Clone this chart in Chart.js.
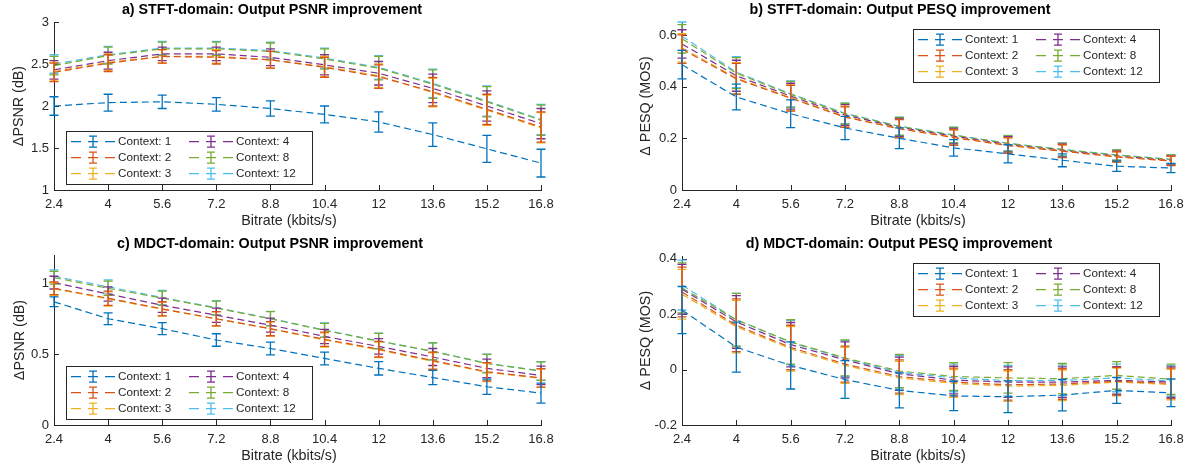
<!DOCTYPE html>
<html>
<head>
<meta charset="utf-8">
<script src="https://cdn.jsdelivr.net/npm/chart.js@4.4.1/dist/chart.umd.min.js"></script>
<style>
  body { margin: 0; background: #fff; }
  .panel { position: absolute; }
</style>
</head>
<body>
<div class="panel" style="left:0;top:0"><canvas id="chartA" width="595" height="235"></canvas></div>
<div class="panel" style="left:595px;top:0"><canvas id="chartB" width="596" height="235"></canvas></div>
<div class="panel" style="left:0;top:235px"><canvas id="chartC" width="595" height="235"></canvas></div>
<div class="panel" style="left:595px;top:235px"><canvas id="chartD" width="596" height="235"></canvas></div>
<script>
const bitrates = [2.4, 4, 5.6, 7.2, 8.8, 10.4, 12, 13.6, 15.2, 16.8];
const contexts = ['Context: 1', 'Context: 2', 'Context: 3', 'Context: 4', 'Context: 8', 'Context: 12'];
const colors = ['#0072BD', '#D95319', '#EDB120', '#7E2F8E', '#77AC30', '#4DBEEE'];

// a) STFT-domain PSNR (dB), one row per context
const stftPsnrMean = [
    [2.00, 2.04, 2.05, 2.02, 1.97, 1.90, 1.81, 1.66, 1.49, 1.32],
    [2.40, 2.51, 2.59, 2.58, 2.55, 2.46, 2.35, 2.17, 1.96, 1.75],
    [2.41, 2.52, 2.59, 2.59, 2.55, 2.47, 2.36, 2.16, 1.95, 1.74],
    [2.43, 2.54, 2.62, 2.62, 2.58, 2.49, 2.39, 2.21, 2.00, 1.79],
    [2.48, 2.60, 2.68, 2.68, 2.65, 2.56, 2.45, 2.26, 2.05, 1.83],
    [2.50, 2.61, 2.69, 2.69, 2.66, 2.57, 2.46, 2.27, 2.06, 1.84]
];
const stftPsnrErr = [
    [0.11, 0.10, 0.08, 0.08, 0.09, 0.10, 0.12, 0.14, 0.16, 0.165],
    [0.11, 0.10, 0.08, 0.08, 0.10, 0.12, 0.14, 0.17, 0.18, 0.18],
    [0.11, 0.10, 0.08, 0.08, 0.10, 0.12, 0.14, 0.17, 0.18, 0.18],
    [0.11, 0.10, 0.08, 0.08, 0.10, 0.12, 0.14, 0.17, 0.18, 0.18],
    [0.11, 0.10, 0.08, 0.08, 0.10, 0.12, 0.14, 0.17, 0.18, 0.18],
    [0.11, 0.10, 0.08, 0.08, 0.10, 0.12, 0.14, 0.17, 0.18, 0.18]
];

// b) STFT-domain PESQ (MOS)
const stftPesqMean = [
    [0.485, 0.360, 0.295, 0.240, 0.200, 0.163, 0.140, 0.115, 0.092, 0.085],
    [0.545, 0.430, 0.355, 0.282, 0.237, 0.203, 0.172, 0.150, 0.128, 0.112],
    [0.550, 0.433, 0.357, 0.284, 0.238, 0.204, 0.173, 0.151, 0.129, 0.113],
    [0.565, 0.442, 0.363, 0.290, 0.242, 0.208, 0.176, 0.153, 0.131, 0.115],
    [0.585, 0.452, 0.370, 0.295, 0.246, 0.212, 0.180, 0.156, 0.135, 0.118],
    [0.595, 0.456, 0.372, 0.297, 0.247, 0.213, 0.181, 0.157, 0.136, 0.119]
];
const stftPesqErr = [
    [0.055, 0.050, 0.054, 0.045, 0.040, 0.032, 0.035, 0.025, 0.020, 0.018],
    [0.055, 0.060, 0.050, 0.040, 0.035, 0.030, 0.030, 0.025, 0.020, 0.018],
    [0.055, 0.060, 0.050, 0.040, 0.035, 0.030, 0.030, 0.025, 0.020, 0.018],
    [0.055, 0.060, 0.050, 0.040, 0.035, 0.030, 0.030, 0.025, 0.020, 0.018],
    [0.055, 0.060, 0.050, 0.040, 0.035, 0.030, 0.030, 0.025, 0.020, 0.018],
    [0.055, 0.060, 0.050, 0.040, 0.035, 0.030, 0.030, 0.025, 0.020, 0.018]
];

// c) MDCT-domain PSNR (dB)
const mdctPsnrMean = [
    [0.870, 0.750, 0.680, 0.600, 0.540, 0.470, 0.400, 0.335, 0.270, 0.225],
    [0.965, 0.895, 0.820, 0.750, 0.680, 0.605, 0.535, 0.455, 0.376, 0.333],
    [0.960, 0.890, 0.818, 0.748, 0.678, 0.600, 0.530, 0.450, 0.372, 0.330],
    [1.005, 0.925, 0.845, 0.775, 0.705, 0.625, 0.555, 0.480, 0.400, 0.350],
    [1.040, 0.965, 0.895, 0.825, 0.750, 0.668, 0.592, 0.520, 0.434, 0.380],
    [1.050, 0.975, 0.900, 0.828, 0.752, 0.670, 0.594, 0.520, 0.436, 0.382]
];
const mdctPsnrErr = [
    [0.035, 0.042, 0.042, 0.044, 0.045, 0.045, 0.047, 0.050, 0.054, 0.070],
    [0.045, 0.050, 0.050, 0.050, 0.050, 0.050, 0.055, 0.060, 0.065, 0.065],
    [0.045, 0.050, 0.050, 0.050, 0.050, 0.050, 0.055, 0.060, 0.065, 0.065],
    [0.045, 0.050, 0.050, 0.050, 0.050, 0.050, 0.055, 0.060, 0.065, 0.065],
    [0.045, 0.050, 0.050, 0.050, 0.050, 0.050, 0.055, 0.060, 0.065, 0.065],
    [0.045, 0.050, 0.050, 0.050, 0.050, 0.050, 0.055, 0.060, 0.065, 0.065]
];

// d) MDCT-domain PESQ (MOS)
const mdctPesqMean = [
    [0.215, 0.081, 0.015, -0.036, -0.075, -0.095, -0.098, -0.092, -0.075, -0.084],
    [0.280, 0.160, 0.080, 0.020, -0.025, -0.045, -0.055, -0.052, -0.042, -0.050],
    [0.272, 0.155, 0.075, 0.015, -0.030, -0.050, -0.060, -0.057, -0.045, -0.054],
    [0.290, 0.172, 0.090, 0.035, -0.015, -0.038, -0.045, -0.045, -0.039, -0.045],
    [0.295, 0.180, 0.100, 0.042, -0.005, -0.025, -0.030, -0.033, -0.021, -0.035],
    [0.305, 0.180, 0.098, 0.040, -0.010, -0.030, -0.040, -0.039, -0.030, -0.041]
];
const mdctPesqErr = [
    [0.085, 0.090, 0.085, 0.068, 0.063, 0.053, 0.057, 0.057, 0.047, 0.050],
    [0.090, 0.095, 0.080, 0.065, 0.060, 0.050, 0.055, 0.055, 0.050, 0.055],
    [0.090, 0.095, 0.080, 0.065, 0.060, 0.050, 0.055, 0.055, 0.050, 0.055],
    [0.090, 0.095, 0.080, 0.065, 0.060, 0.050, 0.055, 0.055, 0.050, 0.055],
    [0.090, 0.095, 0.080, 0.065, 0.060, 0.050, 0.055, 0.055, 0.050, 0.055],
    [0.090, 0.095, 0.080, 0.065, 0.060, 0.050, 0.055, 0.055, 0.050, 0.055]
];

const psnrTicks = [1, 1.5, 2, 2.5, 3];
const pesqTicks = [0, 0.2, 0.4, 0.6];
const mdctPsnrTicks = [0, 0.5, 1];
const mdctPesqTicks = [-0.2, 0, 0.2, 0.4];

const FONT = '"Liberation Sans", Arial, Helvetica, sans-serif';
const AXIS_COLOR = '#262626';
Chart.defaults.font.family = FONT;
Chart.defaults.color = AXIS_COLOR;

// error bars drawn right after each dataset's line, like matlab's errorbar()
const errorBars = {
    id: 'errorBars',
    afterDatasetDraw(chart, args) {
        const ds = chart.data.datasets[args.index];
        if (!ds.errors) return;
        const ctx = chart.ctx;
        const y = chart.scales.y;
        ctx.save();
        ctx.strokeStyle = ds.borderColor;
        ctx.lineWidth = 1.3;
        ctx.setLineDash([]);
        args.meta.data.forEach((pt, i) => {
            const v = ds.data[i].y;
            const top = y.getPixelForValue(v + ds.errors[i]);
            const bot = y.getPixelForValue(v - ds.errors[i]);
            ctx.beginPath();
            ctx.moveTo(pt.x, top); ctx.lineTo(pt.x, bot);
            ctx.moveTo(pt.x - 4.5, top); ctx.lineTo(pt.x + 4.5, top);
            ctx.moveTo(pt.x - 4.5, bot); ctx.lineTo(pt.x + 4.5, bot);
            ctx.stroke();
        });
        ctx.restore();
    }
};

// inward tick marks, panel title, axis labels and the boxed legend
const matlabAxes = {
    id: 'matlabAxes',
    beforeDatasetsDraw(chart) {
        const ctx = chart.ctx;
        const {x, y} = chart.scales;
        const area = chart.chartArea;
        ctx.save();
        ctx.strokeStyle = AXIS_COLOR;
        ctx.lineWidth = 1;
        ctx.beginPath();
        x.ticks.forEach(t => {
            const px = Math.round(x.getPixelForValue(t.value)) + 0.5;
            ctx.moveTo(px, area.bottom); ctx.lineTo(px, area.bottom - 5);
        });
        y.ticks.forEach(t => {
            const py = Math.round(y.getPixelForValue(t.value)) + 0.5;
            ctx.moveTo(area.left, py); ctx.lineTo(area.left + 5, py);
        });
        ctx.stroke();
        ctx.restore();
    },
    afterDraw(chart, args, opts) {
        const ctx = chart.ctx;
        const area = chart.chartArea;
        ctx.save();
        ctx.textAlign = 'center';
        ctx.textBaseline = 'middle';
        ctx.fillStyle = '#000';
        ctx.font = 'bold 14.3px ' + FONT;
        ctx.fillText(opts.title, opts.titleX, opts.titleY);

        ctx.fillStyle = AXIS_COLOR;
        ctx.font = '14.3px ' + FONT;
        ctx.fillText('Bitrate (kbits/s)', opts.xLabelX, 221);
        ctx.save();
        ctx.translate(opts.yLabelX, (area.top + area.bottom) / 2);
        ctx.rotate(-Math.PI / 2);
        ctx.fillText(opts.yLabel, 0, 0);
        ctx.restore();

        // legend, 3 rows x 2 columns
        const w = 246, h = 53;
        const bx = opts.legendCorner === 'sw' ? area.left + 12 : area.right - 12 - w;
        const by = opts.legendCorner === 'sw' ? area.bottom - 6 - h : area.top + 7;
        ctx.fillStyle = '#fff';
        ctx.fillRect(bx, by, w, h);
        ctx.strokeStyle = AXIS_COLOR;
        ctx.lineWidth = 1;
        ctx.strokeRect(Math.round(bx) + 0.5, Math.round(by) + 0.5, w, h);
        ctx.font = '11.7px ' + FONT;
        ctx.textAlign = 'left';
        chart.data.datasets.forEach((ds, i) => {
            const col = Math.floor(i / 3), row = i % 3;
            const x0 = bx + 5 + col * 118;
            const cy = by + 10.7 + row * 16;
            ctx.strokeStyle = ds.borderColor;
            ctx.lineWidth = 1.2;
            ctx.setLineDash([10, 7]);
            ctx.beginPath();
            ctx.moveTo(x0, cy); ctx.lineTo(x0 + 44, cy);
            ctx.stroke();
            ctx.setLineDash([]);
            const cx = x0 + 22;
            ctx.lineWidth = 1.3;
            ctx.beginPath();
            ctx.moveTo(cx, cy - 5.5); ctx.lineTo(cx, cy + 5.5);
            ctx.moveTo(cx - 4, cy - 5.5); ctx.lineTo(cx + 4, cy - 5.5);
            ctx.moveTo(cx - 4, cy + 5.5); ctx.lineTo(cx + 4, cy + 5.5);
            ctx.stroke();
            ctx.fillStyle = AXIS_COLOR;
            ctx.fillText(ds.label, x0 + 47, cy + 0.5);
        });
        ctx.restore();
    }
};

function makePanel(id, means, errs, yMin, yMax, yTicks, layout, texts) {
    const datasets = contexts.map((name, k) => ({
        label: name,
        data: bitrates.map((b, i) => ({x: b, y: means[k][i]})),
        errors: errs[k],
        borderColor: colors[k],
        borderWidth: 1.2,
        borderDash: [7, 4],
        pointRadius: 0,
        fill: false,
        tension: 0
    }));
    return new Chart(document.getElementById(id), {
        type: 'line',
        data: {datasets: datasets},
        plugins: [errorBars, matlabAxes],
        options: {
            responsive: false,
            animation: false,
            layout: {padding: {left: 0, right: layout.right, top: layout.top, bottom: 0}},
            plugins: {
                legend: {display: false},
                tooltip: {enabled: false},
                matlabAxes: texts
            },
            scales: {
                x: {
                    type: 'linear',
                    min: 2.4,
                    max: 16.8,
                    afterBuildTicks: (scale) => { scale.ticks = bitrates.map(v => ({value: v})); },
                    afterFit: (scale) => { scale.height = 45; },
                    ticks: {
                        font: {size: 13},
                        padding: 7,
                        maxRotation: 0,
                        callback: (v) => String(+v.toFixed(1))
                    },
                    grid: {drawOnChartArea: false, drawTicks: false},
                    border: {display: true, color: AXIS_COLOR}
                },
                y: {
                    min: yMin,
                    max: yMax,
                    afterBuildTicks: (scale) => { scale.ticks = yTicks.map(v => ({value: v})); },
                    afterFit: (scale) => { scale.width = layout.left; },
                    ticks: {
                        font: {size: 13},
                        padding: 5,
                        callback: (v) => String(+v.toFixed(2))
                    },
                    grid: {drawOnChartArea: false, drawTicks: false},
                    border: {display: true, color: AXIS_COLOR}
                }
            }
        }
    });
}

makePanel('chartA', stftPsnrMean, stftPsnrErr, 1, 3, psnrTicks,
    {left: 54, right: 54, top: 22},
    {title: 'a) STFT-domain: Output PSNR improvement', titleX: 272, titleY: 10,
     xLabelX: 289, yLabel: '\u0394PSNR (dB)', yLabelX: 19.5, legendCorner: 'sw'});

makePanel('chartB', stftPesqMean, stftPesqErr, 0, 0.65, pesqTicks,
    {left: 87, right: 20, top: 22},
    {title: 'b) STFT-domain: Output PESQ improvement', titleX: 305, titleY: 10,
     xLabelX: 323, yLabel: '\u0394 PESQ (MOS)', yLabelX: 51, legendCorner: 'ne'});

makePanel('chartC', mdctPsnrMean, mdctPsnrErr, 0, 1.2, mdctPsnrTicks,
    {left: 54, right: 54, top: 20},
    {title: 'c) MDCT-domain: Output PSNR improvement', titleX: 270, titleY: 9.5,
     xLabelX: 289, yLabel: '\u0394PSNR (dB)', yLabelX: 20, legendCorner: 'sw'});

makePanel('chartD', mdctPesqMean, mdctPesqErr, -0.2, 0.41, mdctPesqTicks,
    {left: 87, right: 20, top: 21},
    {title: 'd) MDCT-domain: Output PESQ improvement', titleX: 304, titleY: 9.5,
     xLabelX: 323, yLabel: '\u0394 PESQ (MOS)', yLabelX: 51, legendCorner: 'ne'});
</script>
</body>
</html>
